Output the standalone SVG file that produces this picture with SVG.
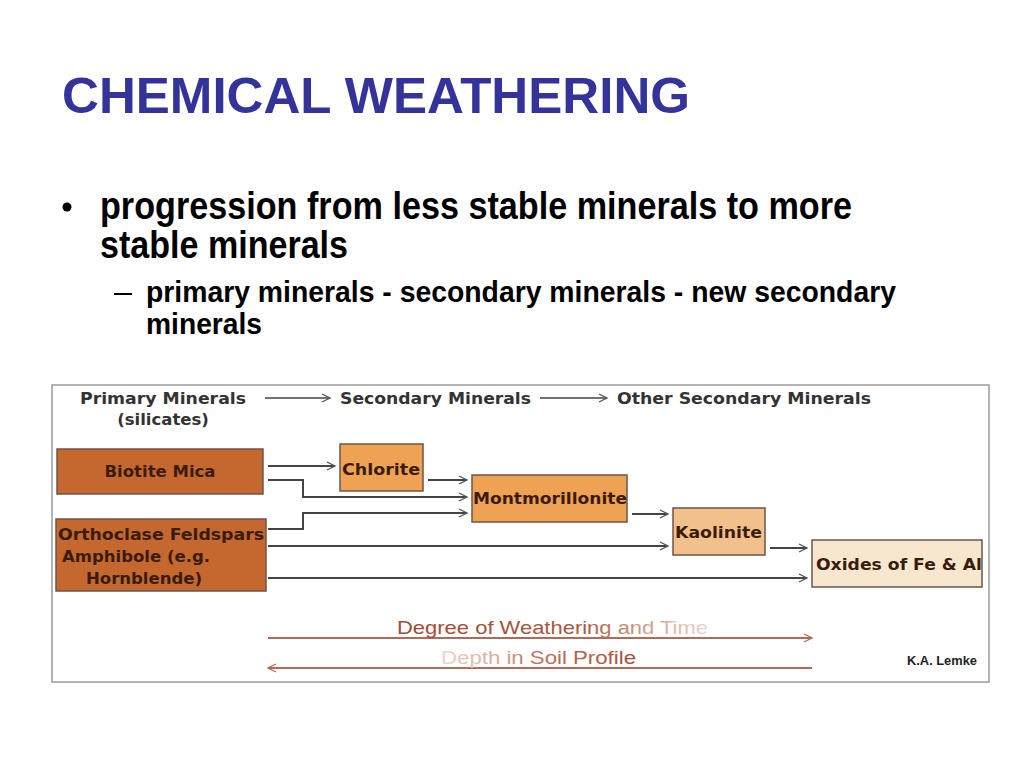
<svg xmlns="http://www.w3.org/2000/svg" width="1024" height="768" viewBox="0 0 1024 768">
<defs>
<style>
.title{font-family:"Liberation Sans",Arial,sans-serif;font-weight:bold;font-size:50px;fill:#333399}
.b1{font-family:"Liberation Sans",Arial,sans-serif;font-weight:bold;font-size:39px;fill:#000}
.b2{font-family:"Liberation Sans",Arial,sans-serif;font-weight:bold;font-size:29px;fill:#000}
.hd{font-family:"DejaVu Sans",Verdana,sans-serif;font-weight:bold;font-size:16.5px;fill:#333}
.nt{font-family:"DejaVu Sans",Verdana,sans-serif;font-weight:bold;font-size:16.5px;fill:#3a1c0c}
.box{stroke:#6e5548;stroke-width:1.5}
.dark{fill:#c4682f}
.mid{fill:#efa254}
.light{fill:#f2c08a}
.pale{fill:#f8e7cf}
.conn{fill:none;stroke:#444;stroke-width:2}
.hconn{fill:none;stroke:#444;stroke-width:1.5}
.red{fill:none;stroke:#b06a58;stroke-width:2}
.gt{font-family:"Liberation Sans",Arial,sans-serif;font-size:19px}
</style>
<marker id="arr" markerUnits="userSpaceOnUse" markerWidth="12" markerHeight="12" refX="9" refY="5" orient="auto">
<path d="M1,1 L9,5 L1,9" fill="none" stroke="#555" stroke-width="1.3"/>
</marker>
<marker id="arrR" markerUnits="userSpaceOnUse" markerWidth="12" markerHeight="12" refX="9" refY="5" orient="auto-start-reverse">
<path d="M1,1 L9,5 L1,9" fill="none" stroke="#b06a58" stroke-width="1.3"/>
</marker>
<linearGradient id="g1" gradientUnits="userSpaceOnUse" x1="397" y1="0" x2="708" y2="0">
<stop offset="0" stop-color="#a24a36"/>
<stop offset="0.6" stop-color="#a85a42"/>
<stop offset="0.75" stop-color="#c8907a"/>
<stop offset="1" stop-color="#ecd6cc"/>
</linearGradient>
<linearGradient id="g2" gradientUnits="userSpaceOnUse" x1="441" y1="0" x2="636" y2="0">
<stop offset="0" stop-color="#ecd6cc"/>
<stop offset="0.3" stop-color="#d8aa98"/>
<stop offset="0.45" stop-color="#c07860"/>
<stop offset="1" stop-color="#a84e38"/>
</linearGradient>
</defs>
<rect width="1024" height="768" fill="#fff"/>

<text class="title" x="62" y="113" textLength="628" lengthAdjust="spacingAndGlyphs">CHEMICAL WEATHERING</text>

<circle cx="67" cy="207" r="4.5" fill="#000"/>
<text class="b1" x="100" y="219" textLength="752" lengthAdjust="spacingAndGlyphs">progression from less stable minerals to more</text>
<text class="b1" x="100" y="258" textLength="248" lengthAdjust="spacingAndGlyphs">stable minerals</text>
<rect x="114" y="293" width="18" height="2" fill="#000"/>
<text class="b2" x="146" y="302" textLength="750" lengthAdjust="spacingAndGlyphs">primary minerals - secondary minerals - new secondary</text>
<text class="b2" x="146" y="334" textLength="116" lengthAdjust="spacingAndGlyphs">minerals</text>

<rect x="52" y="385" width="937" height="297" fill="#fff" stroke="#9a9a9a" stroke-width="1.5"/>

<g id="headers">
<text class="hd" x="80" y="404" textLength="166" lengthAdjust="spacingAndGlyphs">Primary Minerals</text>
<text class="hd" x="163" y="425" text-anchor="middle">(silicates)</text>
<text class="hd" x="340" y="404" textLength="191" lengthAdjust="spacingAndGlyphs">Secondary Minerals</text>
<text class="hd" x="617" y="404" textLength="254" lengthAdjust="spacingAndGlyphs">Other Secondary Minerals</text>
</g>

<g id="biotite">
<rect class="box dark" x="57" y="449" width="206" height="45"/>
<text class="nt" x="160" y="477" text-anchor="middle">Biotite Mica</text>
</g>
<g id="orthoclase">
<rect class="box dark" x="56" y="519" width="210" height="72"/>
<text class="nt" x="58" y="540" textLength="206" lengthAdjust="spacingAndGlyphs">Orthoclase Feldspars</text>
<text class="nt" x="62" y="562">Amphibole (e.g.</text>
<text class="nt" x="86" y="584">Hornblende)</text>
</g>
<g id="chlorite">
<rect class="box mid" x="340" y="444" width="83" height="47"/>
<text class="nt" x="342" y="475" textLength="78" lengthAdjust="spacingAndGlyphs">Chlorite</text>
</g>
<g id="montmorillonite">
<rect class="box mid" x="472" y="475" width="155" height="47"/>
<text class="nt" x="473" y="504" textLength="154" lengthAdjust="spacingAndGlyphs">Montmorillonite</text>
</g>
<g id="kaolinite">
<rect class="box light" x="673" y="508" width="92" height="47"/>
<text class="nt" x="675" y="538" textLength="87" lengthAdjust="spacingAndGlyphs">Kaolinite</text>
</g>
<g id="oxides">
<rect class="box pale" x="812" y="540" width="170" height="47"/>
<text class="nt" x="816" y="570" textLength="166" lengthAdjust="spacingAndGlyphs">Oxides of Fe &amp; Al</text>
</g>

<g id="connectors">
<line class="hconn" x1="265" y1="398" x2="330" y2="398" marker-end="url(#arr)"/>
<line class="hconn" x1="540" y1="398" x2="607" y2="398" marker-end="url(#arr)"/>
<line class="conn" x1="268" y1="466" x2="335" y2="466" marker-end="url(#arr)"/>
<polyline class="conn" points="268,480 303,480 303,497 467,497" marker-end="url(#arr)"/>
<line class="conn" x1="428" y1="480" x2="467" y2="480" marker-end="url(#arr)"/>
<polyline class="conn" points="268,529 303,529 303,513 467,513" marker-end="url(#arr)"/>
<line class="conn" x1="268" y1="546" x2="668" y2="546" marker-end="url(#arr)"/>
<line class="conn" x1="268" y1="578" x2="807" y2="578" marker-end="url(#arr)"/>
<line class="conn" x1="632" y1="514" x2="668" y2="514" marker-end="url(#arr)"/>
<line class="conn" x1="770" y1="548" x2="807" y2="548" marker-end="url(#arr)"/>
<line class="red" x1="268" y1="638" x2="812" y2="638" marker-end="url(#arrR)"/>
<line class="red" x1="268" y1="668" x2="812" y2="668" marker-start="url(#arrR)"/>
</g>

<text class="gt" x="397" y="634" fill="url(#g1)" textLength="311" lengthAdjust="spacingAndGlyphs">Degree of Weathering and Time</text>
<text class="gt" x="441" y="664" fill="url(#g2)" textLength="195" lengthAdjust="spacingAndGlyphs">Depth in Soil Profile</text>
<text x="907" y="665" font-family="Liberation Sans,Arial,sans-serif" font-weight="bold" font-size="13" fill="#222" textLength="70" lengthAdjust="spacingAndGlyphs">K.A. Lemke</text>
</svg>
